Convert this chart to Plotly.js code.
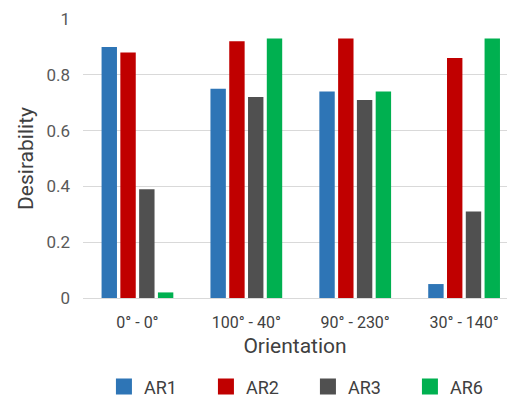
<!DOCTYPE html>
<html>
<head>
<meta charset="utf-8">
<script src="https://cdn.plot.ly/plotly-3.0.1.min.js"></script>
<style>html,body{margin:0;padding:0;background:#fff;}</style>
</head>
<body>
<div id="chart" style="width:507px;height:403px;"></div>
<script>
const categories = ["0° - 0°", "100° - 40°", "90° - 230°", "30° - 140°"];
const seriesNames = ["AR1", "AR2", "AR3", "AR6"];
const ar1 = [0.90, 0.75, 0.74, 0.05];
const ar2 = [0.88, 0.92, 0.93, 0.86];
const ar3 = [0.39, 0.72, 0.71, 0.31];
const ar6 = [0.02, 0.93, 0.74, 0.93];
const colors = ["#2E75B6", "#C00000", "#505050", "#00B050"];
const seriesValues = [ar1, ar2, ar3, ar6];

const traces = seriesValues.map((vals, i) => ({
  type: "bar",
  name: seriesNames[i],
  legendgroup: seriesNames[i],
  showlegend: false,
  x: categories,
  y: vals,
  marker: {color: colors[i], line: {width: 0}}
}));
// legend-only entries (larger square swatches)
seriesNames.forEach((name, i) => {
  traces.push({
    type: "scatter", mode: "markers", name: name, legendgroup: name,
    x: [null], y: [null], showlegend: true,
    marker: {symbol: "square", size: 20, color: colors[i]}
  });
});

const font = "Roboto, 'DejaVu Sans', sans-serif";
const layout = {
  width: 507, height: 403,
  margin: {l: 83, r: 0, t: 19, b: 105},
  paper_bgcolor: "#ffffff", plot_bgcolor: "#ffffff",
  barmode: "group", bargap: 0.31, bargroupgap: 0.18,
  font: {family: font, color: "#595959", size: 14},
  xaxis: {
    type: "category", automargin: false,
    range: [-0.5, 3.394],
    showgrid: false, zeroline: false, showline: false,
    ticks: "", tickfont: {size: 16, color: "#404040"},
    ticklabelstandoff: 13,
    title: {text: "Orientation", font: {size: 21, color: "#404040"}, standoff: 7}
  },
  yaxis: {
    automargin: false,
    range: [0, 1], dtick: 0.2, tick0: 0,
    showgrid: true, gridcolor: "#d9d9d9", gridwidth: 1,
    zeroline: true, zerolinecolor: "#d9d9d9", zerolinewidth: 1,
    showline: false, ticks: "",
    tickfont: {size: 17, color: "#595959"},
    ticklabelstandoff: 12,
    title: {text: "Desirability", font: {size: 21, color: "#404040"}, standoff: 7}
  },
  legend: {
    orientation: "h", x: 0.205, xref: "container", xanchor: "left",
    y: 0.04, yref: "container", yanchor: "middle",
    entrywidth: 57, entrywidthmode: "pixels",
    font: {size: 18, color: "#404040"}, traceorder: "normal"
  },
  showlegend: true
};

Plotly.newPlot("chart", traces, layout, {staticPlot: true, displayModeBar: false});
</script>
</body>
</html>
